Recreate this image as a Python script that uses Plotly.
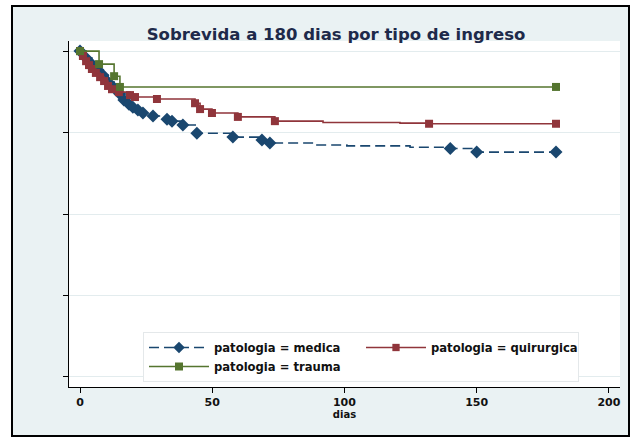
import plotly.graph_objects as go

# ---- data ----
medica_days = [0, 2.3, 4.5, 6.8, 8.7, 10.6, 12.9, 15.1, 16.6, 18.5, 20.0, 21.9, 23.8, 27.6,
               32.9, 34.8, 38.9, 44.2, 57.8, 68.8, 71.8, 89.6, 100.9, 124.8, 140.0, 150.0, 180.0]
medica_surv = [1.0, 0.979, 0.960, 0.942, 0.926, 0.905, 0.887, 0.868, 0.850, 0.837, 0.828, 0.819,
               0.810, 0.801, 0.791, 0.785, 0.773, 0.748, 0.736, 0.727, 0.718, 0.712, 0.709, 0.705,
               0.701, 0.690, 0.690]
medica_mark = [1, 1, 1, 1, 1, 1, 1, 1, 1, 1, 1, 1, 1, 1, 1, 1, 1, 1, 1, 1, 1, 0, 0, 0, 1, 1, 1]

quir_days = [0, 1.1, 2.3, 3.4, 4.5, 6.0, 7.6, 9.1, 10.6, 12.1, 14.7, 18.9, 20.8, 29.1, 43.5,
             45.4, 49.9, 59.7, 73.7, 91.9, 121.0, 132.0, 180.0]
quir_surv = [1.0, 0.985, 0.969, 0.957, 0.945, 0.933, 0.920, 0.908, 0.893, 0.883, 0.874, 0.865,
             0.859, 0.853, 0.840, 0.822, 0.810, 0.798, 0.785, 0.781, 0.779, 0.777, 0.777]
quir_mark = [1, 1, 1, 1, 1, 1, 1, 1, 1, 1, 1, 1, 1, 1, 1, 1, 1, 1, 1, 0, 0, 1, 1]

trauma_days = [0, 7.2, 12.9, 15.1, 180.0]
trauma_surv = [1.0, 0.960, 0.923, 0.890, 0.890]
trauma_mark = [1, 1, 1, 1, 1]

series_names = ["patologia = medica", "patologia = quirurgica", "patologia = trauma"]
x_ticks = [0, 50, 100, 150, 200]
y_ticks = [0, 0.25, 0.5, 0.75, 1]
title_text = "Sobrevida a 180 dias por tipo de ingreso"
x_title = "dias"

FONT = "DejaVu Sans"
NAVY = "#1a476f"
MAROON = "#90353b"
GREEN = "#55752f"
BG = "#eaf2f3"

fig = go.Figure()

def sizes(flags, s):
    return [s if f else 0 for f in flags]

fig.add_trace(go.Scatter(
    x=medica_days, y=medica_surv, name=series_names[0], mode="lines+markers",
    line=dict(color=NAVY, width=1.6, dash="10px,5px", shape="hv"),
    marker=dict(symbol="diamond", color=NAVY, opacity=1, size=sizes(medica_mark, 10),
                line=dict(width=0)),
))
fig.add_trace(go.Scatter(
    x=quir_days, y=quir_surv, name=series_names[1], mode="lines+markers",
    line=dict(color=MAROON, width=1.6, shape="hv"),
    marker=dict(symbol="square", color=MAROON, opacity=1, size=sizes(quir_mark, 8),
                line=dict(width=0)),
))
fig.add_trace(go.Scatter(
    x=trauma_days, y=trauma_surv, name=series_names[2], mode="lines+markers",
    line=dict(color=GREEN, width=1.6, shape="hv"),
    marker=dict(symbol="square", color=GREEN, opacity=1, size=sizes(trauma_mark, 8),
                line=dict(width=0)),
))

L, R, T, B = 69, 12, 41, 51
W, H = 632, 438
pw, ph = W - L - R, H - T - B

def px2x(px):
    return (px - L) / pw

def px2y(py):
    return 1 - (py - T) / ph

shapes = [
    dict(type="rect", xref="paper", yref="paper", layer="below",
         x0=px2x(12), x1=px2x(629), y0=px2y(436), y1=px2y(6),
         fillcolor=BG, line=dict(color="black", width=2)),
    dict(type="rect", xref="paper", yref="paper", layer="below",
         x0=0, x1=1, y0=0, y1=1, fillcolor="white", line=dict(width=0)),
]

fig.update_layout(
    width=W, height=H,
    margin=dict(l=L, r=R, t=T, b=B, pad=0),
    paper_bgcolor="white", plot_bgcolor="white",
    shapes=shapes,
    font=dict(family=FONT, size=10, color="#1a1a1a"),
    title=dict(text=title_text, x=px2x(336), xref="paper", y=1 - 34 / H, yref="container",
               xanchor="center", yanchor="middle",
               font=dict(family=FONT, size=16.5, color="#1e2a4a", weight=700)),
    xaxis=dict(range=[-4.16, 204.2], tickvals=x_ticks, ticktext=[str(v) for v in x_ticks],
               showgrid=False, zeroline=False, showline=True, linecolor="black", linewidth=1,
               ticks="outside", ticklen=5, tickcolor="black",
               tickfont=dict(family=FONT, size=11, color="#111", weight=700),
               title=dict(text=x_title, standoff=1,
                          font=dict(family=FONT, size=10, color="#111", weight=700))),
    yaxis=dict(range=[-0.031, 1.031], tickvals=y_ticks, showticklabels=False,
               showgrid=True, gridcolor="#e3ecee", gridwidth=1, zeroline=False,
               showline=True, linecolor="black", linewidth=1,
               ticks="outside", ticklen=5, tickcolor="black"),
    legend=dict(orientation="h", x=px2x(143), y=px2y(332), xanchor="left", yanchor="top",
                bgcolor="white", bordercolor="#e4e8ea", borderwidth=1,
                entrywidth=142, entrywidthmode="pixels", itemwidth=60,
                font=dict(family=FONT, size=11.6, color="#111", weight=700),
                tracegroupgap=0),
    showlegend=True,
)

fig.write_html("out.html", config={"displayModeBar": False},
               post_script="document.body.style.margin='0px';")
